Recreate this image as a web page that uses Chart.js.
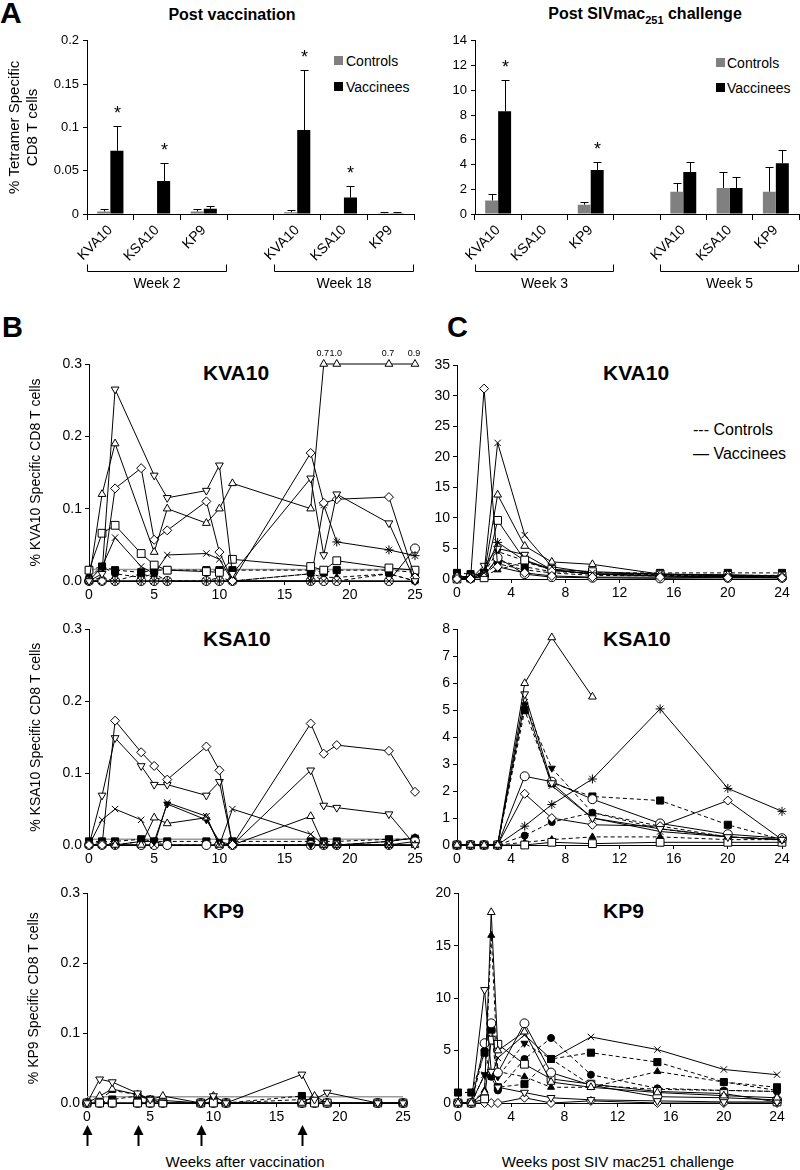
<!DOCTYPE html>
<html>
<head>
<meta charset="utf-8">
<title>Tetramer specific CD8 T cells</title>
<script src="https://cdn.jsdelivr.net/npm/chart.js@4.4.1/dist/chart.umd.min.js"></script>
<style>
  body { margin: 0; background: #fff; }
  #page { position: relative; width: 800px; height: 1170px; overflow: hidden; font-family: "Liberation Sans", Arial, sans-serif; color: #000; }
  #page canvas { position: absolute; }
  .lbl { position: absolute; white-space: nowrap; line-height: 1; }
  .c { transform: translate(-50%, -50%); }
  .l { transform: translate(0, -50%); }
  .sw { position: absolute; width: 9px; height: 9px; }
  .b { font-weight: bold; }
</style>
</head>
<body>
<div id="page">
  <div class="lbl l b" style="left:0;top:13px;font-size:30px">A</div>
  <div class="lbl c b" style="left:232px;top:15px;font-size:16px">Post vaccination</div>
  <div class="lbl c b" style="left:645px;top:16px;font-size:16px">Post SIVmac<sub style="font-size:11px">251</sub> challenge</div>

  <div class="sw" style="left:334px;top:56px;background:#808080"></div>
  <div class="lbl l" style="left:346px;top:61px;font-size:14px">Controls</div>
  <div class="sw" style="left:334px;top:82px;background:#000"></div>
  <div class="lbl l" style="left:346px;top:87px;font-size:14px">Vaccinees</div>

  <div class="sw" style="left:716px;top:58px;background:#808080"></div>
  <div class="lbl l" style="left:727px;top:63px;font-size:14px">Controls</div>
  <div class="sw" style="left:716px;top:83px;background:#000"></div>
  <div class="lbl l" style="left:727px;top:88px;font-size:14px">Vaccinees</div>

  <div class="lbl l b" style="left:2px;top:327px;font-size:29px">B</div>
  <div class="lbl l b" style="left:447px;top:327px;font-size:29px">C</div>

  <div class="lbl l b" style="left:203px;top:372px;font-size:21px">KVA10</div>
  <div class="lbl l b" style="left:603px;top:372px;font-size:21px">KVA10</div>
  <div class="lbl l b" style="left:203px;top:638px;font-size:21px">KSA10</div>
  <div class="lbl l b" style="left:603px;top:638px;font-size:21px">KSA10</div>
  <div class="lbl l b" style="left:203px;top:910px;font-size:21px">KP9</div>
  <div class="lbl l b" style="left:603px;top:910px;font-size:21px">KP9</div>

  <div class="lbl l" style="left:693px;top:430px;font-size:16px">--- Controls</div>
  <div class="lbl l" style="left:693px;top:454px;font-size:16px">— Vaccinees</div>

  <div class="lbl c" style="left:245px;top:1161px;font-size:15px">Weeks after vaccination</div>
  <div class="lbl c" style="left:618px;top:1161px;font-size:15px">Weeks post SIV mac251 challenge</div>
</div>

<script>
Chart.defaults.font.family = '"Liberation Sans", Arial, sans-serif';
Chart.defaults.color = '#000';
Chart.defaults.animation = false;
Chart.defaults.plugins.legend.display = false;
Chart.defaults.plugins.tooltip.enabled = false;

// ---------- A: mean tetramer+ frequencies (upper error bars) ----------
const epitopes = ['KVA10', 'KSA10', 'KP9', '', 'KVA10', 'KSA10', 'KP9'];
const groupSpans = [[0, 2], [4, 6]];
const vacGroupLabels = ['Week 2', 'Week 18'];
const chalGroupLabels = ['Week 3', 'Week 5'];

const vacControls     = [0.003, 0, 0.003, null, 0.002, 0, 0.001];
const vacControlsErr  = [0.003, 0, 0.003, 0, 0.003, 0, 0.001];
const vacVaccinees    = [0.073, 0.038, 0.006, null, 0.097, 0.019, 0.001];
const vacVaccineesErr = [0.029, 0.021, 0.003, 0, 0.069, 0.013, 0.001];
const vacSignif       = [true, true, false, false, true, true, false];

const chalControls     = [1.1, 0.05, 0.75, null, 1.8, 2.1, 1.8];
const chalControlsErr  = [0.5, 0, 0.25, 0, 0.7, 1.3, 2.0];
const chalVaccinees    = [8.3, 0.05, 3.55, null, 3.4, 2.1, 4.1];
const chalVaccineesErr = [2.5, 0, 0.65, 0, 0.8, 0.9, 1.1];
const chalSignif       = [true, false, true, false, false, false, false];

// ---------- B: individual animals after vaccination ----------
const vacWeeks = [0, 1, 2, 4, 5, 6, 9, 10, 11, 17, 18, 19, 23, 25];
const boostWeeks = [0, 4, 9, 17];
const offscaleWeeks = [18, 19, 23, 25];
const offscaleLabels = ['0.7', '1.0', '0.7', '0.9'];

// KVA10
const bKvaTri  = [0, 0.12, 0.19, null, 0.04, 0.10, 0.08, 0.10, 0.135, 0.10, 0.3, 0.3, 0.3, 0.3];
const bKvaDtri = [0, 0.01, 0.265, null, 0.146, 0.115, 0.125, 0.16, 0.01, 0.142, 0.036, 0.12, 0.08, 0];
const bKvaDia  = [0, 0, 0.128, 0.156, 0.057, 0.07, 0.11, 0.04, 0, 0.177, 0.108, 0.113, 0.116, 0.005];
const bKvaSq   = [0.015, 0.066, 0.077, 0.038, 0.022, 0.015, 0.013, 0.012, 0.03, 0.02, 0.015, 0.028, 0.018, 0.015];
const bKvaX    = [0, 0.02, 0.06, 0.02, 0.01, 0.036, 0.038, 0.03, 0, 0, 0, 0, 0, 0];
const bKvaStar = [0, 0, 0, 0, 0, 0, 0, 0, 0, 0, 0.105, 0.054, 0.043, 0.035];
const bKvaCirc = [0, 0, 0, 0, 0, 0, 0, 0, 0, 0, 0, 0, 0, 0.045];
const bKvaSqF  = [0.015, 0.02, 0.015, 0.012, 0.015, 0.015, 0.015, 0.015, 0.015, 0.015, 0.012, 0.015, 0.015, 0.012];
const bKvaCircF = [0.005, 0.02, 0.01, 0.005, 0.01, 0, 0, 0, 0, 0.01, 0, 0, 0.01, 0];
const bKvaTriF = [0, 0.005, 0, 0.01, 0.005, 0, 0, 0.005, 0, 0.01, 0.005, 0.005, 0.01, 0];
const bKvaCut = 0.016;

// KSA10
const bKsaDia  = [0, 0, 0.173, 0.129, 0.11, 0.091, 0.137, 0.104, 0, 0.169, 0.127, 0.139, 0.131, 0.074];
const bKsaDtri = [0, 0.069, 0.149, 0.11, 0.084, 0.084, 0.069, 0.088, 0, 0.104, 0.055, 0.052, 0.043, 0];
const bKsaX    = [0, 0.035, 0.05, 0.035, 0, 0.059, 0.04, 0, 0.05, 0.015, 0, 0, 0, 0];
const bKsaTri  = [0, 0, 0, 0, 0.038, 0.03, 0.038, 0, 0, 0.04, 0, 0, 0, 0];
const bKsaDtriF = [0, 0, 0, 0.005, 0.005, 0.057, 0.035, 0.005, 0, 0, 0, 0, 0, 0];
const bKsaCirc = [0, 0, 0, 0, 0, 0, 0, 0, 0, 0, 0, 0, 0, 0.005];
const bKsaSqF  = [0.005, 0.005, 0.005, 0.008, 0.005, 0.005, 0.005, 0, 0.005, 0.005, 0.005, 0.005, 0.008, 0.008];
const bKsaCircF = [0, 0.005, 0, 0.005, 0.005, 0, 0, 0, 0, 0, 0, 0, 0.005, 0.01];
const bKsaStar = [0, 0, 0, 0, 0, 0, 0, 0, 0, 0, 0, 0, 0.005, 0.01];
const bKsaCut = 0.008;

// KP9
const bKp9Dtri = [0, 0.034, 0.03, 0.014, 0.005, null, 0, 0.01, 0, 0.041, 0.005, 0.015, 0, 0];
const bKp9TriF = [0, 0.005, 0.018, 0.012, 0.005, 0, 0, 0, 0, 0.005, 0.005, 0, 0, 0];
const bKp9Tri  = [0, 0.01, 0.02, 0.012, 0.005, 0.01, 0, 0.01, 0, 0, 0.01, 0, 0, 0];
const bKp9SqF  = [0, 0, 0.005, 0.01, 0.005, 0, 0, 0, 0, 0.01, 0.005, 0, 0, 0];
const bKp9Sq   = [0, 0, 0, 0, 0, 0, 0, 0, 0, 0, 0, 0, 0, 0];
const bKp9Circ = [0, 0, 0, 0, 0, 0, 0, 0, 0, 0, 0, 0, 0, 0];
const bKp9Cut = 0.009;

// ---------- C: individual animals after challenge ----------
const chalWeeks = [0, 1, 2, 3, 5, 7, 10, 15, 20, 24];
const chalWeeksKp9 = [0, 1, 2, 2.5, 3, 5, 7, 10, 15, 20, 24];

// KVA10
const cKvaDia  = [0, 0, 31.2, 2, 1, 0.5, 0.3, 0.3, 0.2, 0.2];
const cKvaX    = [0, 0.5, 1, 22.3, 7.2, 2, 1, 0.8, 0.5, 0.3];
const cKvaTri  = [0.5, 0.3, 0.8, 13.8, 5.4, 2.8, 2.4, 0.8, 0.7, 0.5];
const cKvaSq   = [0, 0.2, 0.2, 9.6, 3.1, 1.6, 1.2, 0.8, 0.6, 0.5];
const cKvaDtri = [0, 0, 2.2, 5, 4, 1.5, 0.8, 0.5, 0.4, 0.3];
const cKvaCirc = [0.2, 0.1, 0.5, 3.5, 0.8, 0.3, 0.2, 0.1, 0.2, 0.2];
const cKvaStar = [0, 0, 1, 6, 3, 1.5, 0.8, 0.5, 0.3, 0.2];
const cKvaSqF  = [1, 0.8, 1, 3, 2, 1.2, 1, 1, 1, 1];
const cKvaCircF = [0.5, 0.3, 0.8, 2.5, 1.5, 1, 0.6, 0.5, 0.4, 0.3];
const cKvaDtriF = [0, 0.5, 1, 4.5, 3, 1.5, 0.8, 0.7, 0.6, 0.6];
const cKvaTriF = [0, 0.2, 0.5, 1.5, 2.8, 1.5, 0.8, 0.6, 0.5, 0.4];

// KSA10
const cKsaTri  = [0, 0, 0, 0, 6.0, 7.7, 5.5, null, null, null];
const cKsaDtri = [0, 0, 0, 0, 5.6, 2.3, 1.0, 0.6, 0.3, 0.2];
const cKsaStar = [0, 0, 0, 0, 0.7, 1.5, 2.45, 5.05, 2.1, 1.25];
const cKsaDia  = [0, 0, 0, 0, 1.9, 1.0, 0.75, 0.7, 1.65, 0.2];
const cKsaCirc = [0, 0, 0, 0, 2.55, 2.35, 1.7, 0.8, 0.4, 0.25];
const cKsaX    = [0, 0, 0, 0, 5.3, 2.2, 1.0, 0.5, 0.3, 0.2];
const cKsaSq   = [0, 0, 0, 0, 0, 0.1, 0.05, 0.1, 0.1, 0.1];
const cKsaSqF  = [0, 0, 0, 0, 5.0, 2.3, 1.8, 1.65, 0.75, 0.2];
const cKsaDtriF = [0, 0, 0, 0, 5.2, 2.85, 1.2, 0.6, 0.3, 0.2];
const cKsaCircF = [0, 0, 0, 0, 0.35, 0.85, 1.2, 0.7, 0.3, 0.2];
const cKsaTriF = [0, 0, 0, 0, 0.1, 0.2, 0.3, 0.3, 0.2, 0.2];

// KP9
const cKp9Tri  = [0, 0, 1, 18.2, 5, 6.8, 2, 1.5, 1, 0.7, 0.5];
const cKp9TriF = [0, 0, 1.2, 16, 3, 2.5, 1.5, 1.5, 3.0, 2, 1.2];
const cKp9Dtri = [0, 0, 10.8, 3, 1.5, 1, 0.5, 0.3, 0.2, 0.1, 0.1];
const cKp9Circ = [0, 0, 5.7, 7.6, 2.9, 7.6, 2.9, 1.7, 0.6, 0.5, 0.3];
const cKp9Sq   = [0, 0, 0.4, 6, 5.6, 3.7, 2.3, 1.8, 1.1, 0.9, 0.1];
const cKp9X    = [0, 0, 2.7, 2.5, 4.3, 6.5, 4.2, 6.3, 5.1, 3.2, 2.7];
const cKp9SqF  = [1, 1, 4.8, 7, 1.5, 1.8, 4.2, 4.8, 3.9, 2.0, 1.5];
const cKp9CircF = [0, 0, 5, 2.5, 1.2, 4.2, 6.2, 2.7, 1.4, 1.2, 1.1];
const cKp9DtriF = [0, 0, 2.7, 3, 2.5, 5.7, 4.2, 1.7, 1.3, 1.2, 1.1];
const cKp9Dia  = [0, 0, 0, 0, 0, 0.5, 0, 0.2, 0, 0, 0];

// marker look for each kind of animal symbol
const markers = {
  tri:   { ps: 'triangle', rot: 0,   fill: '#fff', r: 4.5 },
  dtri:  { ps: 'triangle', rot: 180, fill: '#fff', r: 4.5 },
  dia:   { ps: 'rectRot',  rot: 0,   fill: '#fff', r: 4.5 },
  sq:    { ps: 'rect',     rot: 0,   fill: '#fff', r: 5.5 },
  circ:  { ps: 'circle',   rot: 0,   fill: '#fff', r: 4.5 },
  x:     { ps: 'crossRot', rot: 0,   fill: '#000', r: 4.5 },
  star:  { ps: 'star',     rot: 0,   fill: '#000', r: 4.5 },
  triF:  { ps: 'triangle', rot: 0,   fill: '#000', r: 4 },
  dtriF: { ps: 'triangle', rot: 180, fill: '#000', r: 4 },
  sqF:   { ps: 'rect',     rot: 0,   fill: '#000', r: 5 },
  circF: { ps: 'circle',   rot: 0,   fill: '#000', r: 3.5 }
};

function series(weeks, vals, kind, dashed) {
  const m = markers[kind];
  return {
    data: weeks.map((w, i) => ({ x: w, y: vals[i] })),
    borderColor: '#000',
    borderWidth: 1,
    borderDash: dashed ? [4, 3] : [],
    pointStyle: m.ps,
    rotation: m.rot,
    pointRadius: m.r,
    pointBackgroundColor: m.fill,
    pointBorderColor: '#000',
    pointBorderWidth: 1,
    fill: false,
    tension: 0,
    spanGaps: true,
    clip: false
  };
}

function cutoff(maxWeek, value) {
  return {
    data: [{ x: 0, y: value }, { x: maxWeek, y: value }],
    borderColor: '#9a9a9a', borderWidth: 1.5, pointRadius: 0, clip: false
  };
}

function makeCanvas(left, top, width, height) {
  const c = document.createElement('canvas');
  c.width = width; c.height = height;
  c.style.left = left + 'px'; c.style.top = top + 'px';
  c.style.width = width + 'px'; c.style.height = height + 'px';
  document.getElementById('page').appendChild(c);
  return c;
}

function axisLook(tickLen) {
  return {
    grid: { drawOnChartArea: false, drawTicks: true, tickLength: tickLen, color: '#000', lineWidth: 1 },
    border: { display: true, color: '#000', width: 1 }
  };
}

// error bars, significance stars and week brackets for panel A
const barExtras = {
  id: 'barExtras',
  afterDatasetsDraw(chart) {
    const { ctx, chartArea, scales: { x, y } } = chart;
    const opt = chart.options.plugins.barExtras;
    ctx.save();
    ctx.strokeStyle = '#000';
    ctx.fillStyle = '#000';
    ctx.lineWidth = 1;
    opt.errors.forEach((errs, di) => {
      const vals = chart.data.datasets[di].data;
      chart.getDatasetMeta(di).data.forEach((bar, i) => {
        if (vals[i] == null || !errs[i]) return;
        const top = Math.round(y.getPixelForValue(vals[i] + errs[i])) + 0.5;
        const bx = Math.round(bar.x) + 0.5;
        ctx.beginPath();
        ctx.moveTo(bx, bar.y); ctx.lineTo(bx, top);
        ctx.moveTo(bx - 4, top); ctx.lineTo(bx + 4, top);
        ctx.stroke();
        if (di === 1 && opt.signif[i]) {
          ctx.font = '18px "Liberation Sans", Arial';
          ctx.textAlign = 'center';
          ctx.textBaseline = 'alphabetic';
          ctx.fillText('*', bx, top - 8);
        }
      });
    });
    const half = (x.getPixelForValue(1) - x.getPixelForValue(0)) / 2;
    const by = Math.round(chartArea.bottom + 57) + 0.5;
    ctx.font = '14px "Liberation Sans", Arial';
    ctx.textAlign = 'center';
    ctx.textBaseline = 'middle';
    opt.spans.forEach((span, g) => {
      const x0 = Math.round(x.getPixelForValue(span[0]) - half) + 0.5;
      const x1 = Math.round(x.getPixelForValue(span[1]) + half) - 0.5;
      ctx.beginPath();
      ctx.moveTo(x0, by - 7); ctx.lineTo(x0, by); ctx.lineTo(x1, by); ctx.lineTo(x1, by - 7);
      ctx.stroke();
      ctx.fillText(opt.labels[g], (x0 + x1) / 2, by + 13);
    });
    ctx.restore();
  }
};

// off-scale value labels and vaccination arrows for panel B
const lineExtras = {
  id: 'lineExtras',
  afterDatasetsDraw(chart) {
    const opt = chart.options.plugins.lineExtras || {};
    const { ctx, chartArea, scales: { x } } = chart;
    ctx.save();
    ctx.fillStyle = '#000';
    ctx.strokeStyle = '#000';
    if (opt.offWeeks) {
      ctx.font = '9px "Liberation Sans", Arial';
      ctx.textAlign = 'center';
      ctx.textBaseline = 'alphabetic';
      opt.offWeeks.forEach((w, i) => ctx.fillText(opt.offLabels[i], x.getPixelForValue(w) - 1, chartArea.top - 8));
    }
    if (opt.arrows) {
      const top = chartArea.bottom + 22;
      opt.arrows.forEach(w => {
        const ax = Math.round(x.getPixelForValue(w)) + 0.5;
        ctx.lineWidth = 2;
        ctx.beginPath(); ctx.moveTo(ax, top + 6); ctx.lineTo(ax, top + 21); ctx.stroke();
        ctx.beginPath(); ctx.moveTo(ax, top); ctx.lineTo(ax - 5, top + 10); ctx.lineTo(ax + 5, top + 10);
        ctx.closePath(); ctx.fill();
      });
    }
    ctx.restore();
  }
};

function barChart(box, ctrl, ctrlErr, vacc, vaccErr, signif, labels, yMax, yStep, yTitle, yWidth, fmt) {
  const canvas = makeCanvas(box[0], box[1], box[2], box[3]);
  return new Chart(canvas, {
    type: 'bar',
    data: {
      labels: epitopes,
      datasets: [
        { label: 'Controls', data: ctrl, backgroundColor: '#808080' },
        { label: 'Vaccinees', data: vacc, backgroundColor: '#000' }
      ]
    },
    options: {
      responsive: false,
      layout: { padding: { top: 10, right: 1, left: 0, bottom: 0 } },
      datasets: { bar: { barPercentage: 1, categoryPercentage: 0.56 } },
      scales: {
        x: Object.assign(axisLook(6), {
          ticks: { autoSkip: false, maxRotation: 45, minRotation: 45, font: { size: 14 }, padding: 2 },
          afterFit: s => { s.height = 76; }
        }),
        y: Object.assign(axisLook(4), {
          min: 0, max: yMax,
          ticks: { stepSize: yStep, font: { size: 13 }, padding: 4, callback: fmt },
          title: yTitle ? { display: true, text: yTitle, font: { size: 15 }, padding: { top: 0, bottom: 0 } } : { display: false },
          afterFit: s => { s.width = yWidth; }
        })
      },
      plugins: { barExtras: { errors: [ctrlErr, vaccErr], signif: signif, spans: groupSpans, labels: labels } }
    },
    plugins: [barExtras]
  });
}

function lineChart(box, weeks, rows, cut, xMax, xStep, yMax, yStep, yTitle, yWidth, padTop, xHeight, extras, fmt) {
  const canvas = makeCanvas(box[0], box[1], box[2], box[3]);
  const datasets = rows.map(r => series(weeks, r[0], r[1], r[2]));
  if (cut != null) datasets.push(cutoff(xMax, cut));
  return new Chart(canvas, {
    type: 'line',
    data: { datasets },
    options: {
      responsive: false,
      layout: { padding: { top: padTop, right: 10, left: 0, bottom: 0 } },
      scales: {
        x: Object.assign(axisLook(4), {
          type: 'linear', min: 0, max: xMax,
          ticks: { stepSize: xStep, font: { size: 14 }, padding: 2 },
          afterFit: s => { s.height = xHeight; }
        }),
        y: Object.assign(axisLook(4), {
          min: 0, max: yMax,
          ticks: { stepSize: yStep, font: { size: 14 }, padding: 3, callback: fmt },
          title: yTitle ? { display: true, text: yTitle, font: { size: 14 }, padding: { top: 4, bottom: 0 } } : { display: false },
          afterFit: s => { s.width = yWidth; }
        })
      },
      plugins: { lineExtras: extras || {} }
    },
    plugins: [lineExtras]
  });
}

const twoDp = v => String(+v.toFixed(2));
const oneDp = v => v.toFixed(1);
const plain = v => String(v);

// Panel A
barChart([6, 29, 409, 261], vacControls, vacControlsErr, vacVaccinees, vacVaccineesErr, vacSignif,
  vacGroupLabels, 0.2, 0.05, ['% Tetramer Specific', 'CD8 T cells'], 81, twoDp);
barChart([435, 29, 365, 261], chalControls, chalControlsErr, chalVaccinees, chalVaccineesErr, chalSignif,
  chalGroupLabels, 14, 2, null, 40, plain);

// Panel B
lineChart([24, 340, 401, 267], vacWeeks, [
  [bKvaDtri, 'dtri', false], [bKvaTri, 'tri', false], [bKvaDia, 'dia', false], [bKvaSq, 'sq', false],
  [bKvaX, 'x', false], [bKvaStar, 'star', false], [bKvaCirc, 'circ', false],
  [bKvaSqF, 'sqF', true], [bKvaCircF, 'circF', true], [bKvaTriF, 'triF', true]
], bKvaCut, 25, 5, 0.3, 0.1, '% KVA10 Specific CD8 T cells', 65, 24, 26,
  { offWeeks: offscaleWeeks, offLabels: offscaleLabels }, oneDp);

lineChart([24, 618, 401, 253], vacWeeks, [
  [bKsaDia, 'dia', false], [bKsaDtri, 'dtri', false], [bKsaX, 'x', false], [bKsaTri, 'tri', false],
  [bKsaDtriF, 'dtriF', false], [bKsaCirc, 'circ', false], [bKsaStar, 'star', false],
  [bKsaSqF, 'sqF', true], [bKsaCircF, 'circF', true]
], bKsaCut, 25, 5, 0.3, 0.1, '% KSA10 Specific CD8 T cells', 65, 10, 26, null, oneDp);

lineChart([22, 882, 391, 273], vacWeeks, [
  [bKp9Dtri, 'dtri', false], [bKp9Tri, 'tri', false], [bKp9Sq, 'sq', false], [bKp9Circ, 'circ', false],
  [bKp9TriF, 'triF', true], [bKp9SqF, 'sqF', true]
], bKp9Cut, 25, 5, 0.3, 0.1, '% KP9 Specific CD8 T cells', 65, 10, 52,
  { arrows: boostWeeks }, oneDp);

// Panel C
lineChart([417, 354, 375, 251], chalWeeks, [
  [cKvaDia, 'dia', false], [cKvaX, 'x', false], [cKvaTri, 'tri', false], [cKvaSq, 'sq', false],
  [cKvaDtri, 'dtri', false], [cKvaCirc, 'circ', false], [cKvaStar, 'star', false],
  [cKvaSqF, 'sqF', true], [cKvaCircF, 'circF', true], [cKvaDtriF, 'dtriF', true], [cKvaTriF, 'triF', true]
], null, 24, 4, 35, 5, null, 40, 10, 26, null, plain);

lineChart([417, 618, 375, 253], chalWeeks, [
  [cKsaTri, 'tri', false], [cKsaDtri, 'dtri', false], [cKsaStar, 'star', false], [cKsaDia, 'dia', false],
  [cKsaCirc, 'circ', false], [cKsaX, 'x', false], [cKsaSq, 'sq', false],
  [cKsaSqF, 'sqF', true], [cKsaDtriF, 'dtriF', true], [cKsaCircF, 'circF', true], [cKsaTriF, 'triF', true]
], null, 24, 4, 8, 1, null, 40, 10, 26, null, plain);

lineChart([418, 882, 369, 247], chalWeeksKp9, [
  [cKp9Tri, 'tri', false], [cKp9Dtri, 'dtri', false], [cKp9Circ, 'circ', false], [cKp9Sq, 'sq', false],
  [cKp9X, 'x', false], [cKp9Dia, 'dia', false],
  [cKp9TriF, 'triF', true], [cKp9SqF, 'sqF', true], [cKp9CircF, 'circF', true], [cKp9DtriF, 'dtriF', true]
], null, 24, 4, 20, 5, null, 40, 10, 26, null, plain);
</script>
</body>
</html>
